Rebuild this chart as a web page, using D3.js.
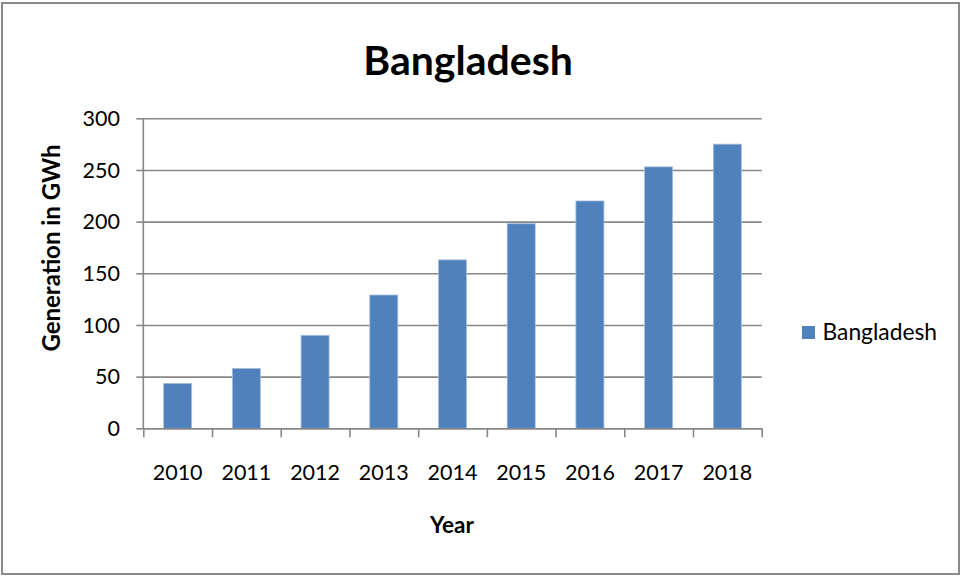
<!DOCTYPE html>
<html>
<head>
<meta charset="utf-8">
<script src="https://cdn.jsdelivr.net/npm/d3@7"></script>
<style>
  html, body { margin: 0; padding: 0; background: #fff; }
  svg { display: block; }
</style>
</head>
<body>
<svg id="chart" width="962" height="577"></svg>
<script>
const categories = ["2010", "2011", "2012", "2013", "2014", "2015", "2016", "2017", "2018"];
const values = [43.5, 58, 90, 129, 163, 198, 220, 253, 275];
const yTicks = [0, 50, 100, 150, 200, 250, 300];
const seriesName = "Bangladesh";
const chartTitle = "Bangladesh";
const xTitle = "Year";
const yTitle = "Generation in GWh";

(function () {
const FONT = "Lato, 'Open Sans', sans-serif";
const svg = d3.select("#chart");

// outer border
svg.append("rect")
  .attr("x", 2).attr("y", 3).attr("width", 957).attr("height", 571)
  .attr("fill", "#fff").attr("stroke", "#8a8a8a").attr("stroke-width", 2);

const pLeft = 143.3, pRight = 761.7, pTop = 118.3, pBottom = 428.3;

const x = d3.scaleBand().domain(categories).range([pLeft, pRight])
  .paddingInner(0.592).paddingOuter(0.296);
const xEdge = d3.scaleLinear().domain([0, categories.length]).range([pLeft, pRight]);
const y = d3.scaleLinear().domain([0, 300]).range([pBottom, pTop]);

const gridColor = "#878787";

// y ticks
const yAxis = svg.append("g").attr("transform", `translate(${pLeft},0)`)
  .call(d3.axisLeft(y).tickValues(yTicks).tickSizeInner(7).tickSizeOuter(0).tickFormat(""));
yAxis.select(".domain").remove();
yAxis.selectAll(".tick line").attr("stroke", gridColor).attr("stroke-width", 1.6);

// gridlines
const grid = svg.append("g").attr("transform", `translate(${pLeft},0)`)
  .call(d3.axisLeft(y).tickValues(yTicks).tickSize(-(pRight - pLeft)).tickFormat(""));
grid.select(".domain").remove();
grid.selectAll(".tick line").attr("stroke", gridColor).attr("stroke-width", 1.6);

// y tick labels
svg.append("g").selectAll("text").data(yTicks).join("text")
  .attr("x", 120).attr("y", d => y(d)).attr("dy", "0.36em")
  .attr("text-anchor", "end")
  .attr("font-family", FONT).attr("font-size", 21.5).attr("fill", "#000")
  .text(d => d);

// bars
svg.append("g").selectAll("rect").data(values).join("rect")
  .attr("x", (d, i) => x(categories[i]))
  .attr("y", d => y(d))
  .attr("width", x.bandwidth())
  .attr("height", d => y(0) - y(d))
  .attr("fill", "#4f81bd")
  .attr("stroke", "#a7c0de").attr("stroke-width", 0.8);

// y axis line
svg.append("line").attr("x1", pLeft).attr("x2", pLeft).attr("y1", pTop).attr("y2", pBottom)
  .attr("stroke", gridColor).attr("stroke-width", 1.6);

// x axis with boundary ticks
const xAxis = svg.append("g").attr("transform", `translate(0,${pBottom})`)
  .call(d3.axisBottom(xEdge).ticks(categories.length).tickSizeInner(9).tickSizeOuter(0).tickFormat(""));
xAxis.select(".domain").attr("stroke", gridColor).attr("stroke-width", 1.6);
xAxis.selectAll(".tick line").attr("stroke", gridColor).attr("stroke-width", 1.6);

// x tick labels
svg.append("g").selectAll("text").data(categories).join("text")
  .attr("x", d => x(d) + x.bandwidth() / 2).attr("y", 479.5)
  .attr("text-anchor", "middle")
  .attr("font-family", FONT).attr("font-size", 21.5).attr("fill", "#000")
  .text(d => d);

// title
svg.append("text").attr("x", 468).attr("y", 74.5).attr("text-anchor", "middle")
  .attr("font-family", FONT).attr("font-weight", "bold").attr("font-size", 41)
  .attr("fill", "#000").text(chartTitle);

// axis titles
svg.append("text").attr("x", 452).attr("y", 533).attr("text-anchor", "middle")
  .attr("font-family", FONT).attr("font-weight", "bold").attr("font-size", 22.5)
  .attr("fill", "#000").text(xTitle);

svg.append("text").attr("transform", "translate(60,248) rotate(-90)")
  .attr("text-anchor", "middle")
  .attr("font-family", FONT).attr("font-weight", "bold").attr("font-size", 24)
  .attr("fill", "#000").text(yTitle);

// legend
const lg = svg.append("g");
lg.append("rect").attr("x", 802).attr("y", 326).attr("width", 13).attr("height", 13)
  .attr("fill", "#4f81bd");
lg.append("text").attr("x", 822.5).attr("y", 339.5)
  .attr("font-family", FONT).attr("font-size", 22.8).attr("fill", "#000")
  .text(seriesName);
})();
</script>
</body>
</html>
